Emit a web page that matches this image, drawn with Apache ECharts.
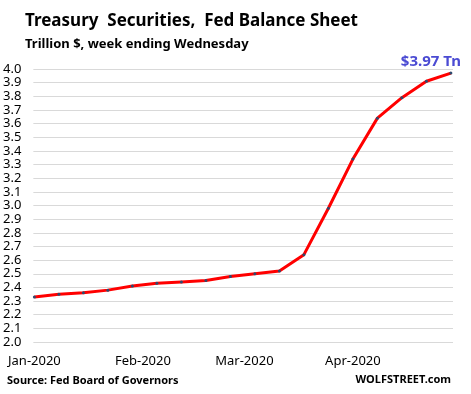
<!DOCTYPE html>
<html><head><meta charset="utf-8">
<script src="https://cdn.jsdelivr.net/npm/echarts@6/dist/echarts.min.js"></script>
<style>html,body{margin:0;padding:0;background:#fff}#c{width:471px;height:394px}</style>
</head><body><div id="c"></div>
<script>
// Weeks ending Wednesday, day offsets from 2020-01-01
var weekDays = [0,7,14,21,28,35,42,49,56,63,70,77,84,91,98,105,112,119];
var treasuries = [2.33,2.35,2.36,2.38,2.41,2.43,2.44,2.45,2.48,2.50,2.52,2.64,2.98,3.34,3.64,3.79,3.91,3.97];
var monthTickDays = [0,31,60,91];
var monthLabels = ['Jan-2020','Feb-2020','Mar-2020','Apr-2020'];
var yTicks = {min:2.0, max:4.0, interval:0.1};

var font = '"Noto Sans", "Open Sans", sans-serif';
var pts = weekDays.map(function(d,i){ return [d, treasuries[i]]; });
var last = pts.length-1;
var data = pts.map(function(p,i){
  if(i===last){
    return {value:p, label:{show:true, position:'top', offset:[-20,3],
      formatter:function(){ return '$' + treasuries[last].toFixed(2) + ' Tn'; },
      color:'#4b4bd3', fontWeight:'bold', fontSize:15, fontFamily:font}};
  }
  return p;
});

var chart = echarts.init(document.getElementById('c'), null, {renderer:'canvas'});
chart.setOption({
  animation:false,
  grid:{left:31, right:18, top:69, bottom:52, containLabel:false},
  title:[
    {text:'Treasury  Securities,  Fed Balance Sheet', left:20, top:8,
     textStyle:{fontFamily:font, fontWeight:'bold', fontSize:17, color:'#000'}},
    {text:'Trillion $, week ending Wednesday', left:20, top:33,
     textStyle:{fontFamily:font, fontWeight:'bold', fontSize:13, color:'#000'}}
  ],
  graphic:[
    {type:'text', left:7, top:375, style:{text:'Source: Fed Board of Governors', fontFamily:font, fontWeight:'bold', fontSize:11, fill:'#000'}},
    {type:'text', right:20, top:374, style:{text:'WOLFSTREET.com', fontFamily:font, fontWeight:'bold', fontSize:11, fill:'#000'}}
  ],
  xAxis:{type:'value', min:-0.3, max:119.6,
    axisLine:{show:false}, axisTick:{show:false}, splitLine:{show:false},
    axisLabel:{customValues:monthTickDays, margin:13, fontFamily:font, fontSize:13, color:'#000',
      formatter:function(v){ var i=monthTickDays.indexOf(v); return i>=0?monthLabels[i]:''; }}
  },
  yAxis:{type:'value', min:yTicks.min, max:yTicks.max, interval:yTicks.interval,
    axisLine:{show:false}, axisTick:{show:false},
    splitLine:{lineStyle:{color:'#d9d9d9', width:1}},
    axisLabel:{margin:12, fontFamily:font, fontSize:13, color:'#000',
      formatter:function(v){ return v.toFixed(1); }}
  },
  series:[{type:'line', data:data, symbol:'circle', symbolSize:3,
    itemStyle:{color:'#2e4a6e'}, lineStyle:{color:'#ff0000', width:3}, z:3}]
});
</script></body></html>
